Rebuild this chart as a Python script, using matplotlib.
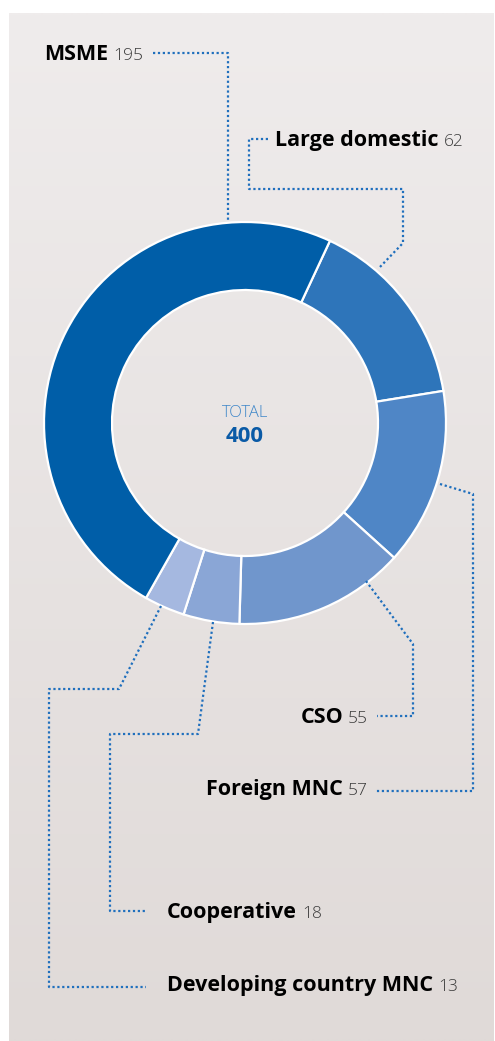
import matplotlib
matplotlib.use("Agg")
import matplotlib.pyplot as plt
import numpy as np

# ---- data ----
categories = ["Large domestic", "Foreign MNC", "CSO", "Cooperative",
              "Developing country MNC", "MSME"]
values = [62, 57, 55, 18, 13, 195]
total_label = "TOTAL"
total_value = sum(values)

# ---- style / layout ----
W, H = 495, 1041
colors = ["#2e75ba", "#4f86c6", "#7096cc", "#8aa6d6", "#a5b8e0", "#005ea8"]
line_color = "#1f6fbd"
FONT = ["Open Sans", "DejaVu Sans"]

fig = plt.figure(figsize=(W / 100, H / 100), dpi=100)
ax = fig.add_axes([0, 0, 1, 1])
ax.set_xlim(0, W)
ax.set_ylim(0, H)
ax.axis("off")

def Y(y):
    return H - y

# background panel with gradient
top = np.array([239, 236, 236]) / 255
bot = np.array([224, 218, 216]) / 255
t = np.linspace(0, 1, 256)[:, None]
grad = (top[None, :] * (1 - t) + bot[None, :] * t)[:, None, :]
ax.imshow(grad, extent=(9, 494, Y(1041), Y(13)), aspect="auto", zorder=0,
          interpolation="bilinear")

# donut
cx, cy, R = 245, 423, 201
ax.pie(values, colors=colors, startangle=65, counterclock=False,
       center=(cx, Y(cy)), radius=R,
       wedgeprops=dict(width=R - 133, edgecolor="white", linewidth=1.6))
ax.set_xlim(0, W)
ax.set_ylim(0, H)
ax.set_aspect("auto")

ax.text(cx, Y(413), total_label, ha="center", va="center", fontsize=12,
        color="#3f87c9", family=FONT, fontweight="light")
ax.text(cx, Y(437), str(total_value), ha="center", va="center", fontsize=16,
        color="#0a5aa6", family=FONT, fontweight="bold")

# leader lines
leaders = {
    "MSME": [(153, 53), (228, 53), (228, 222)],
    "Large domestic": [(268, 139), (249, 139), (249, 189), (403, 189), (403, 243), (379, 268)],
    "Foreign MNC": [(440, 484), (473, 494), (473, 791), (376, 791)],
    "CSO": [(366, 581), (413, 644), (413, 716), (377, 716)],
    "Cooperative": [(213, 622), (198, 734), (110, 734), (110, 911), (146, 911)],
    "Developing country MNC": [(161, 606), (119, 689), (49, 689), (49, 987), (146, 987)],
}
for name, pts in leaders.items():
    xs = [p[0] for p in pts]
    ys = [Y(p[1]) for p in pts]
    ax.plot(xs, ys, color=line_color, lw=1.6, linestyle=(0, (1, 1.2)),
            dash_capstyle="butt", zorder=3)

# labels: (x anchor, baseline y, alignment)
label_pos = {
    "MSME": (44, 60, "left"),
    "Large domestic": (275, 146, "left"),
    "CSO": (368, 723, "right"),
    "Foreign MNC": (368, 795, "right"),
    "Cooperative": (167, 918, "left"),
    "Developing country MNC": (167, 991, "left"),
}
LBL = 15.5
NUM = 12.5
fig.canvas.draw()
r = fig.canvas.get_renderer()
inv = ax.transData.inverted()
gap = 5
for name, val in zip(categories, values):
    x, yb, al = label_pos[name]
    if al == "left":
        t1 = ax.text(x, Y(yb), name, ha="left", va="baseline", fontsize=LBL,
                     fontweight="bold", family=FONT, color="black")
        bb = t1.get_window_extent(r)
        xe = inv.transform((bb.x1, bb.y0))[0]
        ax.text(xe + gap, Y(yb), str(val), ha="left", va="baseline",
                fontsize=NUM, family=FONT, color="#3a3a3a", fontweight="light")
    else:
        t2 = ax.text(x, Y(yb), str(val), ha="right", va="baseline",
                     fontsize=NUM, family=FONT, color="#3a3a3a", fontweight="light")
        bb = t2.get_window_extent(r)
        xs = inv.transform((bb.x0, bb.y0))[0]
        ax.text(xs - gap, Y(yb), name, ha="right", va="baseline", fontsize=LBL,
                fontweight="bold", family=FONT, color="black")

fig.savefig("out.png", dpi=100, facecolor="white")
